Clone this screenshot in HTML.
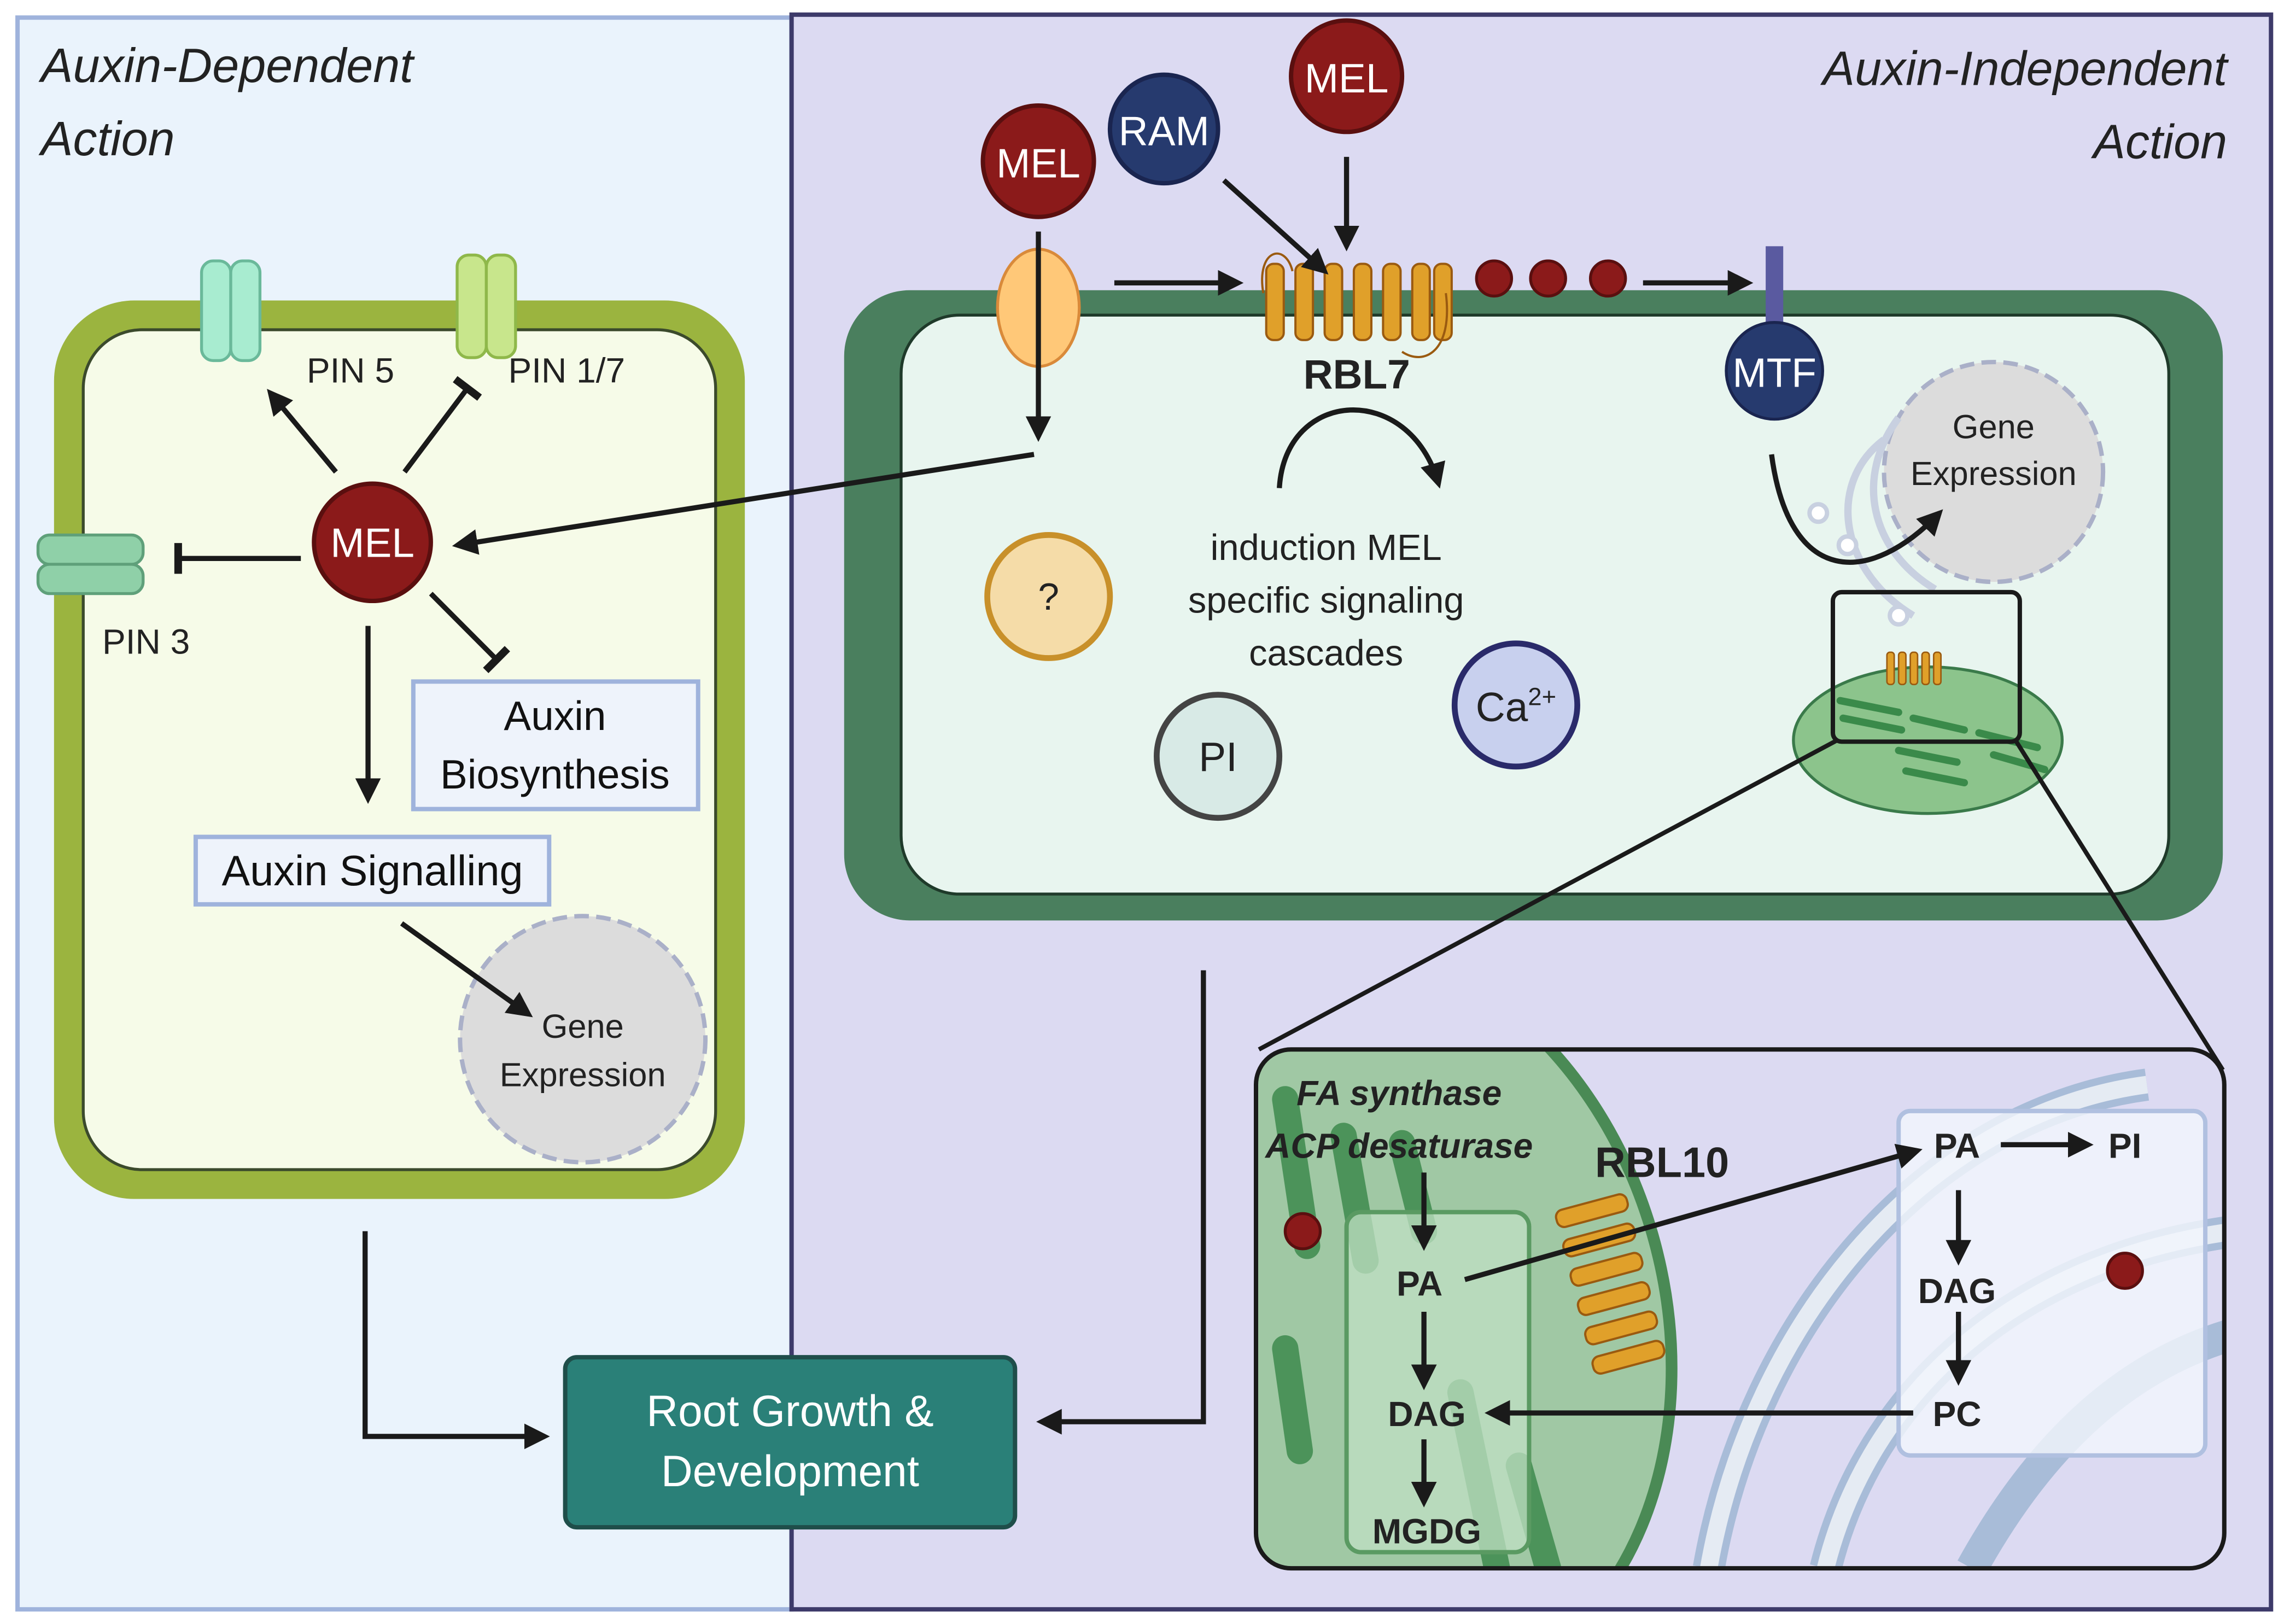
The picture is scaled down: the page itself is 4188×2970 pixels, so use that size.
<!DOCTYPE html>
<html><head><meta charset="utf-8"><style>html,body{margin:0;padding:0;background:#fff;width:4188px;height:2970px;overflow:hidden;position:relative}svg{display:block;position:absolute;left:0;top:0}text{font-family:"Liberation Sans",sans-serif}</style></head><body>
<svg width="4188" height="2970" viewBox="0 0 1568 1108" preserveAspectRatio="none" xmlns="http://www.w3.org/2000/svg">
<defs>
<marker id="a" viewBox="0 0 10 10" refX="8" refY="5" markerWidth="5" markerHeight="5" orient="auto"><path d="M0,0L10,5L0,10z" fill="#1a1a1a"/></marker>
<marker id="t" viewBox="0 0 10 10" refX="5" refY="5" markerWidth="6" markerHeight="6" orient="auto"><path d="M5,0V10" stroke="#1a1a1a" stroke-width="2.5"/></marker>
<clipPath id="ic"><rect x="860" y="716" width="663" height="354" rx="24"/></clipPath>
</defs>
<rect width="1568" height="1108" fill="#fff"/>
<rect x="12" y="12" width="530" height="1086" fill="#eaf3fc" stroke="#9fb3dc" stroke-width="3"/>
<rect x="542" y="10" width="1013" height="1088" fill="#dcdaf2" stroke="#3d3a6a" stroke-width="3"/>
<text x="28" y="56" font-size="33" font-style="italic" fill="#222">Auxin-Dependent</text>
<text x="28" y="106" font-size="33" font-style="italic" fill="#222">Action</text>
<text x="1525" y="58" font-size="33" font-style="italic" fill="#222" text-anchor="end">Auxin-Independent</text>
<text x="1525" y="108" font-size="33" font-style="italic" fill="#222" text-anchor="end">Action</text>
<!-- left cell -->
<rect x="37" y="205" width="473" height="613" rx="55" fill="#9bb43f"/>
<rect x="57" y="225" width="433" height="573" rx="40" fill="#f6fbe8" stroke="#3b4a2c" stroke-width="2"/>
<g fill="#a8ecd0" stroke="#6ab99a" stroke-width="2"><rect x="138" y="178" width="20" height="68" rx="8"/><rect x="158" y="178" width="20" height="68" rx="8"/></g>
<g fill="#c8e68c" stroke="#8fb84a" stroke-width="2"><rect x="313" y="174" width="20" height="70" rx="8"/><rect x="333" y="174" width="20" height="70" rx="8"/></g>
<g fill="#8fd0a8" stroke="#5fa07a" stroke-width="2"><rect x="26" y="365" width="72" height="20" rx="8"/><rect x="26" y="385" width="72" height="20" rx="8"/></g>
<text x="210" y="261" font-size="24" fill="#222">PIN 5</text>
<text x="348" y="261" font-size="24" fill="#222">PIN 1/7</text>
<text x="70" y="446" font-size="24" fill="#222">PIN 3</text>
<circle cx="399" cy="709" r="84" fill="#dcdcdc" stroke="#aab0c8" stroke-width="3" stroke-dasharray="10,5"/>
<text x="399" y="708" font-size="23" fill="#222" text-anchor="middle">Gene</text>
<text x="399" y="741" font-size="23" fill="#222" text-anchor="middle">Expression</text>
<rect x="283" y="465" width="195" height="87" fill="#eef3fb" stroke="#9fb3dc" stroke-width="3"/>
<text x="380" y="498" font-size="28" fill="#111" text-anchor="middle">Auxin</text>
<text x="380" y="538" font-size="28" fill="#111" text-anchor="middle">Biosynthesis</text>
<rect x="134" y="571" width="242" height="46" fill="#eef3fb" stroke="#9fb3dc" stroke-width="3"/>
<text x="255" y="604" font-size="29" fill="#111" text-anchor="middle">Auxin Signalling</text>
<rect x="387" y="926" width="308" height="116" rx="8" fill="#2a8078" stroke="#1f4e4a" stroke-width="3"/>
<text x="541" y="973" font-size="30" fill="#fff" text-anchor="middle">Root Growth &amp;</text>
<text x="541" y="1014" font-size="30" fill="#fff" text-anchor="middle">Development</text>
<!-- right cell -->
<rect x="578" y="198" width="944" height="430" rx="45" fill="#4a7f5e"/>
<rect x="617" y="215" width="868" height="395" rx="40" fill="#e8f5ef" stroke="#1f3a2a" stroke-width="2"/>
<ellipse cx="711" cy="210" rx="28" ry="40" fill="#ffc878" stroke="#d98a3a" stroke-width="2"/>
<line x1="711" y1="170" x2="711" y2="250" stroke="#d98a3a" stroke-width="2"/>
<g fill="#e0a02a" stroke="#9a5a10" stroke-width="1.5">
<rect x="867" y="180" width="12" height="52" rx="5"/><rect x="887" y="180" width="12" height="52" rx="5"/><rect x="907" y="180" width="12" height="52" rx="5"/><rect x="927" y="180" width="12" height="52" rx="5"/><rect x="947" y="180" width="12" height="52" rx="5"/><rect x="967" y="180" width="12" height="52" rx="5"/><rect x="982" y="180" width="12" height="52" rx="5"/>
</g>
<path d="M865,200 C860,170 880,165 885,185 M990,200 C995,240 975,250 960,240" fill="none" stroke="#9a5a10" stroke-width="1.5"/>
<text x="929" y="265" font-size="28" font-weight="bold" fill="#222" text-anchor="middle">RBL7</text>
<g fill="#8b1a1a" stroke="#5a0f0f" stroke-width="2"><circle cx="1023" cy="190" r="12"/><circle cx="1060" cy="190" r="12"/><circle cx="1101" cy="190" r="12"/></g>
<rect x="1209" y="168" width="12" height="55" fill="#5a5aa0"/>
<circle cx="1365" cy="322" r="75" fill="#dcdcdc" stroke="#aab0c8" stroke-width="3" stroke-dasharray="10,5"/>
<text x="1365" y="299" font-size="23" fill="#222" text-anchor="middle">Gene</text>
<text x="1365" y="331" font-size="23" fill="#222" text-anchor="middle">Expression</text>
<g fill="none" stroke="#c8d0e0" stroke-width="5"><path d="M1290,300 C1250,330 1260,390 1310,420"/><path d="M1300,285 C1270,325 1280,375 1325,402"/></g>
<g fill="#fff" stroke="#c8d0e0" stroke-width="3"><circle cx="1245" cy="350" r="6"/><circle cx="1265" cy="372" r="6"/><circle cx="1300" cy="420" r="6"/></g>
<circle cx="1215" cy="253" r="33" fill="#263a6e" stroke="#1a2550" stroke-width="2"/>
<text x="1215" y="264" font-size="28" fill="#fff" text-anchor="middle">MTF</text>
<circle cx="718" cy="407" r="42" fill="#f5dca8" stroke="#c8902a" stroke-width="4"/>
<text x="718" y="416" font-size="26" fill="#222" text-anchor="middle">?</text>
<text x="908" y="382" font-size="25" fill="#222" text-anchor="middle">induction MEL</text>
<text x="908" y="418" font-size="25" fill="#222" text-anchor="middle">specific signaling</text>
<text x="908" y="454" font-size="25" fill="#222" text-anchor="middle">cascades</text>
<circle cx="834" cy="516" r="42" fill="#d8eae6" stroke="#444" stroke-width="4"/>
<text x="834" y="526" font-size="28" fill="#222" text-anchor="middle">PI</text>
<circle cx="1038" cy="481" r="42" fill="#c8d0ee" stroke="#2a2a6a" stroke-width="4"/>
<text x="1038" y="492" font-size="28" fill="#222" text-anchor="middle">Ca<tspan font-size="17" dy="-11">2+</tspan></text>
<ellipse cx="1320" cy="505" rx="92" ry="50" fill="#8cc48c" stroke="#3a7a4a" stroke-width="2"/>
<g stroke="#3a8a4a" stroke-width="5" stroke-linecap="round"><line x1="1260" y1="478" x2="1300" y2="486"/><line x1="1262" y1="490" x2="1302" y2="498"/><line x1="1310" y1="490" x2="1345" y2="498"/><line x1="1300" y1="512" x2="1340" y2="520"/><line x1="1305" y1="526" x2="1345" y2="534"/><line x1="1355" y1="500" x2="1395" y2="510"/><line x1="1365" y1="515" x2="1400" y2="525"/></g>
<g fill="#e0a02a" stroke="#9a5a10" stroke-width="1"><rect x="1292" y="445" width="5" height="22" rx="2"/><rect x="1300" y="445" width="5" height="22" rx="2"/><rect x="1308" y="445" width="5" height="22" rx="2"/><rect x="1316" y="445" width="5" height="22" rx="2"/><rect x="1324" y="445" width="5" height="22" rx="2"/></g>
<rect x="1255" y="404" width="128" height="102" rx="6" fill="none" stroke="#1a1a1a" stroke-width="3"/>
<g stroke="#1a1a1a" stroke-width="3"><line x1="1258" y1="505" x2="862" y2="716"/><line x1="1380" y1="505" x2="1522" y2="730"/></g>
<!-- top circles -->
<circle cx="711" cy="110" r="38" fill="#8b1a1a" stroke="#5a0f0f" stroke-width="3"/><text x="711" y="121" font-size="28" fill="#fff" text-anchor="middle">MEL</text>
<circle cx="797" cy="88" r="37" fill="#263a6e" stroke="#1a2550" stroke-width="3"/><text x="797" y="99" font-size="28" fill="#fff" text-anchor="middle">RAM</text>
<circle cx="922" cy="52" r="38" fill="#8b1a1a" stroke="#5a0f0f" stroke-width="3"/><text x="922" y="63" font-size="28" fill="#fff" text-anchor="middle">MEL</text>
<!-- inset -->
<g clip-path="url(#ic)">
<rect x="860" y="716" width="663" height="354" fill="#dcdaf2"/>
<ellipse cx="940" cy="900" rx="200" ry="260" transform="rotate(-15 940 900)" fill="#a0c8a4" stroke="#4a8a55" stroke-width="8"/>
<g stroke="#3e8a4e" stroke-width="18" stroke-linecap="round" opacity="0.85"><line x1="880" y1="750" x2="895" y2="850"/><line x1="920" y1="775" x2="935" y2="860"/><line x1="960" y1="780" x2="975" y2="840"/><line x1="880" y1="920" x2="890" y2="990"/><line x1="1040" y1="1000" x2="1060" y2="1070"/><line x1="1000" y1="950" x2="1025" y2="1070"/></g>
<rect x="922" y="827" width="125" height="232" rx="10" fill="#c0e0c4" fill-opacity="0.75" stroke="#5a9a62" stroke-width="3"/>
<g fill="none" stroke="#a8bcd8" stroke-width="22"><path d="M1170,1070 C1200,900 1320,760 1470,740"/><path d="M1250,1070 C1280,950 1380,860 1530,840"/><path d="M1350,1070 C1400,980 1460,930 1530,910"/></g>
<g fill="none" stroke="#fff" stroke-width="12" opacity="0.7"><path d="M1170,1070 C1200,900 1320,760 1470,740"/><path d="M1250,1070 C1280,950 1380,860 1530,840"/></g>
<rect x="1300" y="758" width="210" height="235" rx="8" fill="#f2f6fc" fill-opacity="0.8" stroke="#b0c0e0" stroke-width="3"/>
</g>
<rect x="860" y="716" width="663" height="354" rx="24" fill="none" stroke="#1a1a1a" stroke-width="3"/>
<circle cx="892" cy="840" r="12" fill="#8b1a1a" stroke="#5a0f0f" stroke-width="2"/>
<circle cx="1455" cy="867" r="12" fill="#8b1a1a" stroke="#5a0f0f" stroke-width="2"/>
<g fill="#e0a02a" stroke="#9a5a10" stroke-width="1.5">
<rect x="1065" y="820" width="50" height="12" rx="5" transform="rotate(-15 1090 826)"/><rect x="1070" y="840" width="50" height="12" rx="5" transform="rotate(-15 1095 846)"/><rect x="1075" y="860" width="50" height="12" rx="5" transform="rotate(-15 1100 866)"/><rect x="1080" y="880" width="50" height="12" rx="5" transform="rotate(-15 1105 886)"/><rect x="1085" y="900" width="50" height="12" rx="5" transform="rotate(-15 1110 906)"/><rect x="1090" y="920" width="50" height="12" rx="5" transform="rotate(-15 1115 926)"/>
</g>
<text x="958" y="754" font-size="24" font-weight="bold" font-style="italic" fill="#222" text-anchor="middle">FA synthase</text>
<text x="958" y="790" font-size="24" font-weight="bold" font-style="italic" fill="#222" text-anchor="middle">ACP desaturase</text>
<text x="1138" y="803" font-size="29" font-weight="bold" fill="#222" text-anchor="middle">RBL10</text>
<g font-size="24" font-weight="bold" fill="#222" text-anchor="middle">
<text x="972" y="884">PA</text><text x="977" y="973">DAG</text><text x="977" y="1053">MGDG</text>
<text x="1340" y="790">PA</text><text x="1455" y="790">PI</text><text x="1340" y="889">DAG</text><text x="1340" y="973">PC</text>
</g>
<!-- left MEL -->
<circle cx="255" cy="370" r="40" fill="#8b1a1a" stroke="#5a0f0f" stroke-width="3"/>
<text x="255" y="380" font-size="28" fill="#fff" text-anchor="middle">MEL</text>
<!-- connectors on top -->
<g stroke="#1a1a1a" stroke-width="3.5" fill="none">
<line x1="230" y1="322" x2="185" y2="268" marker-end="url(#a)"/>
<line x1="277" y1="322" x2="320" y2="265" marker-end="url(#t)"/>
<line x1="206" y1="381" x2="122" y2="381" marker-end="url(#t)"/>
<line x1="295" y1="405" x2="340" y2="450" marker-end="url(#t)"/>
<line x1="252" y1="427" x2="252" y2="545" marker-end="url(#a)"/>
<line x1="275" y1="630" x2="362" y2="692" marker-end="url(#a)"/>
<line x1="708" y1="310" x2="313" y2="372" marker-end="url(#a)"/>
<polyline points="250,840 250,980 373,980" marker-end="url(#a)"/>
<polyline points="824,662 824,970 713,970" marker-end="url(#a)"/>
<line x1="711" y1="158" x2="711" y2="298" marker-end="url(#a)"/>
<line x1="763" y1="193" x2="848" y2="193" marker-end="url(#a)"/>
<line x1="1125" y1="193" x2="1197" y2="193" marker-end="url(#a)"/>
<line x1="838" y1="123" x2="907" y2="185" marker-end="url(#a)"/>
<line x1="922" y1="107" x2="922" y2="168" marker-end="url(#a)"/>
<path d="M876,333 C880,265 965,260 985,330" marker-end="url(#a)"/>
<path d="M1213,310 C1225,400 1280,400 1328,350" marker-end="url(#a)"/>
<line x1="975" y1="800" x2="975" y2="850" marker-end="url(#a)"/>
<line x1="975" y1="895" x2="975" y2="945" marker-end="url(#a)"/>
<line x1="975" y1="982" x2="975" y2="1025" marker-end="url(#a)"/>
<line x1="1003" y1="873" x2="1313" y2="785" marker-end="url(#a)"/>
<line x1="1370" y1="781" x2="1430" y2="781" marker-end="url(#a)"/>
<line x1="1341" y1="812" x2="1341" y2="860" marker-end="url(#a)"/>
<line x1="1341" y1="895" x2="1341" y2="942" marker-end="url(#a)"/>
<line x1="1310" y1="964" x2="1020" y2="964" marker-end="url(#a)"/>
</g>
</svg>
</body></html>
